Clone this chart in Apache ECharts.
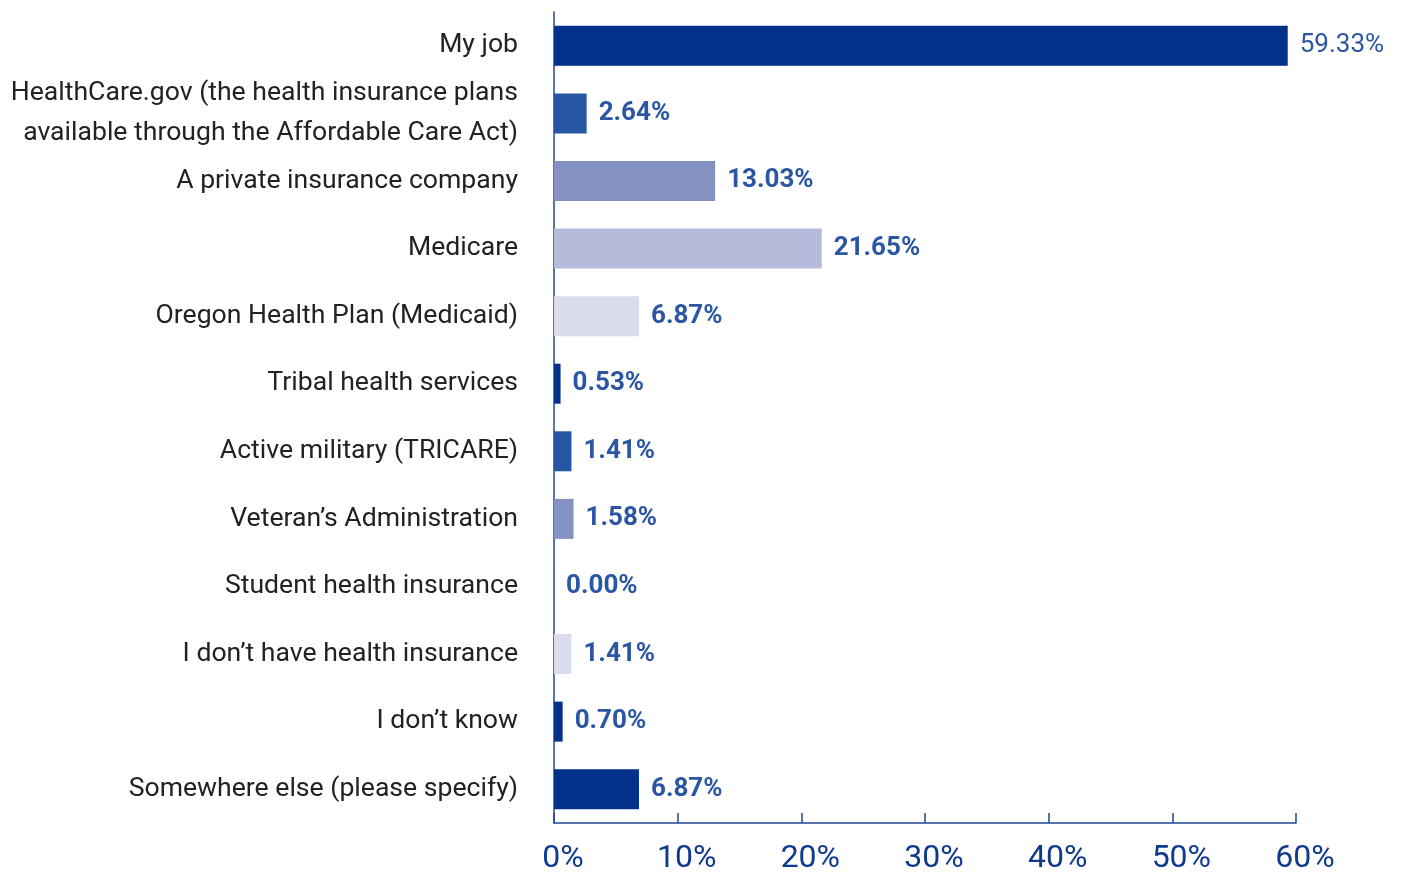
<!DOCTYPE html>
<html>
<head>
<meta charset="utf-8">
<script src="https://cdn.jsdelivr.net/npm/echarts@6/dist/echarts.min.js"></script>
<style>
  html, body { margin: 0; padding: 0; background: #fff; }
  #chart { width: 1409px; height: 875px; }
</style>
</head>
<body>
<div id="chart"></div>
<script>
// categories top to bottom
const categories = [
  'My job',
  'HealthCare.gov (the health insurance plans\navailable through the Affordable Care Act)',
  'A private insurance company',
  'Medicare',
  'Oregon Health Plan (Medicaid)',
  'Tribal health services',
  'Active military (TRICARE)',
  'Veteran\u2019s Administration',
  'Student health insurance',
  'I don\u2019t have health insurance',
  'I don\u2019t know',
  'Somewhere else (please specify)'
]
const values = [59.33, 2.64, 13.03, 21.65, 6.87, 0.53, 1.41, 1.58, 0.00, 1.41, 0.70, 6.87]
const barColors = ['#02318a', '#2656a3', '#8391c3', '#b4bbdb', '#dadcee', '#02318a',
  '#2656a3', '#8391c3', '#b4bbdb', '#dadcee', '#02318a', '#02318a']

const myChart = echarts.init(document.getElementById('chart'))

const option = {
  animation: false,
  grid: { left: 554, right: 113, top: 12, bottom: 50 },
  xAxis: {
    type: 'value',
    min: 0,
    max: 60,
    interval: 10,
    splitLine: { show: false },
    axisLine: { show: true, lineStyle: { color: '#1f4794', width: 1.5 } },
    axisTick: { show: true, inside: true, length: 10, lineStyle: { color: '#1f4794', width: 1.5 } },
    axisLabel: {
      formatter: '{value}%',
      color: '#0f3a8c',
      fontFamily: 'Roboto',
      fontSize: 32,
      margin: 20,
      padding: [0, 0, 0, 18]
    }
  },
  yAxis: {
    type: 'category',
    inverse: true,
    data: categories,
    axisLine: { show: true, lineStyle: { color: '#1f4794', width: 1.5 } },
    axisTick: { show: false },
    axisLabel: {
      color: '#222',
      fontFamily: 'Roboto',
      fontSize: 26.6,
      lineHeight: 40,
      margin: 36,
      align: 'right',
      padding: [0, 0, 6, 0]
    }
  },
  series: [{
    type: 'bar',
    barWidth: 40,
    data: values.map((v, i) => ({
      value: v,
      itemStyle: { color: barColors[i] },
      label: i === 0 ? { fontWeight: 'normal' } : {}
    })),
    label: {
      show: true,
      position: 'right',
      distance: 12,
      color: '#2a56a3',
      fontFamily: 'Roboto',
      fontSize: 26,
      fontWeight: 'bold',
      formatter: p => p.value.toFixed(2) + '%'
    }
  }]
}

myChart.setOption(option)
</script>
</body>
</html>
